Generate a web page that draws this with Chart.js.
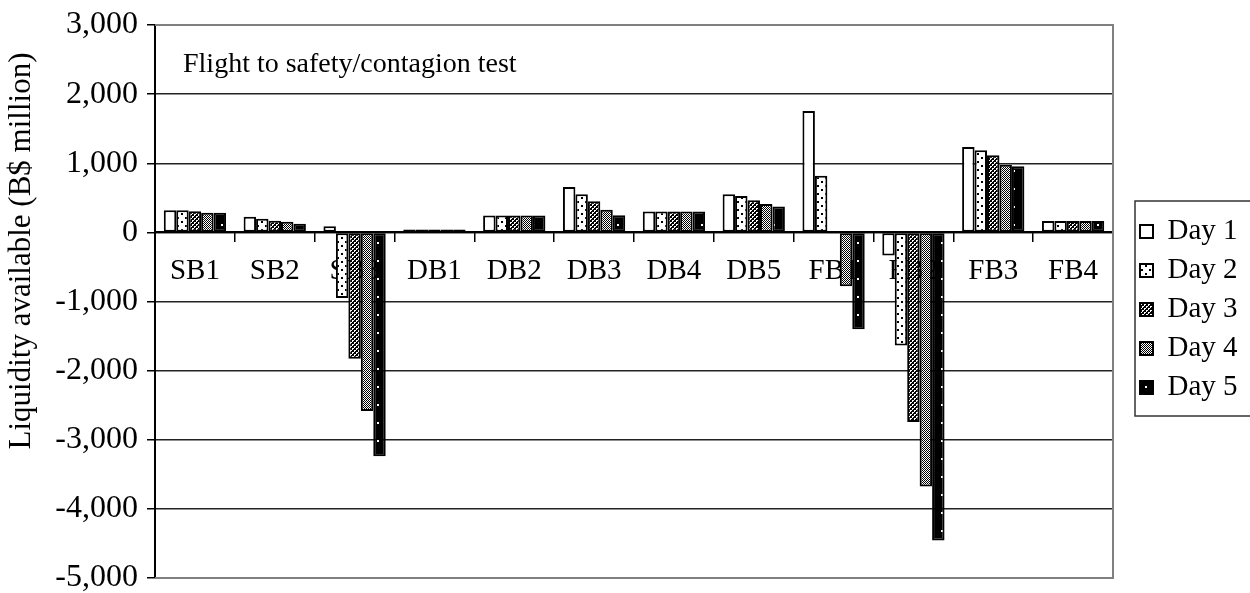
<!DOCTYPE html>
<html>
<head>
<meta charset="utf-8">
<script src="https://cdn.jsdelivr.net/npm/chart.js@4.4.1/dist/chart.umd.min.js"></script>
<style>
  html, body { margin: 0; padding: 0; background: #fff; }
  #wrap { width: 1250px; height: 593px; }
</style>
</head>
<body>
<div id="wrap"><canvas id="liquidez"></canvas></div>
<script>
// categorias y valores (B$ million)
const bancos = ["SB1", "SB2", "SB3", "DB1", "DB2", "DB3", "DB4", "DB5", "FB1", "FB2", "FB3", "FB4"];
const dias = ["Day 1", "Day 2", "Day 3", "Day 4", "Day 5"];
const day1 = [320, 227, 90, 40, 245, 656, 302, 550, 1756, -335, 1235, 164];
const day2 = [320, 198, -950, 40, 245, 552, 302, 526, 820, -1635, 1187, 164];
const day3 = [305, 169, -1830, 40, 245, 449, 302, 463, -15, -2745, 1114, 164];
const day4 = [285, 154, -2585, 40, 245, 328, 302, 410, -780, -3675, 980, 164];
const day5 = [285, 125, -3240, 40, 245, 246, 302, 376, -1400, -4457, 955, 164];
const yMin = -5000;
const yMax = 3000;
const yStep = 1000;

const SERIF = "'Liberation Serif', 'Times New Roman', serif";

// tramas en blanco y negro para cada dia
function trama(w, h, pinta) {
    const c = document.createElement("canvas");
    c.width = w;
    c.height = h;
    const g = c.getContext("2d");
    pinta(g);
    return g.createPattern(c, "repeat");
}

const tramas = [
    "#ffffff",
    trama(8, 8, (g) => {
        g.fillStyle = "#fff"; g.fillRect(0, 0, 8, 8);
        g.fillStyle = "#000"; g.fillRect(1, 1, 2, 2); g.fillRect(5, 5, 2, 2);
    }),
    trama(4, 4, (g) => {
        g.fillStyle = "#000"; g.fillRect(0, 0, 4, 4);
        g.fillStyle = "#fff";
        g.fillRect(0, 0, 2, 1); g.fillRect(0, 1, 1, 1);
        g.fillRect(2, 2, 2, 1); g.fillRect(2, 3, 1, 1);
    }),
    trama(2, 2, (g) => {
        g.fillStyle = "#fff"; g.fillRect(0, 0, 2, 2);
        g.fillStyle = "#000"; g.fillRect(0, 0, 1, 1); g.fillRect(1, 1, 1, 1);
    }),
    trama(12, 18, (g) => {
        g.fillStyle = "#000"; g.fillRect(0, 0, 12, 18);
        g.fillStyle = "#fff"; g.fillRect(5, 8, 2, 2);
    }),
];

const series = [day1, day2, day3, day4, day5];

const LEGEND_W = 137;

const extras = {
    id: "extras",
    beforeLayout(chart) {
        const lg = chart.legend;
        if (lg && !lg._anchoFijo) {
            const fitOriginal = lg.fit;
            lg.fit = function () {
                fitOriginal.call(this);
                this.width = LEGEND_W;
            };
            lg._anchoFijo = true;
        }
    },
    afterLayout(chart) {
        const lg = chart.legend;
        if (lg) {
            lg.left = 1130;
            lg.right = lg.left + LEGEND_W;
            lg.top += 8;
            lg.bottom += 8;
        }
    },
    beforeDatasetsDraw(chart) {
        const { ctx, chartArea: a } = chart;
        ctx.save();
        ctx.strokeStyle = "#808080";
        ctx.lineWidth = 2;
        ctx.beginPath();
        ctx.moveTo(a.left, a.top);
        ctx.lineTo(a.right, a.top);
        ctx.lineTo(a.right, a.bottom);
        ctx.lineTo(a.left, a.bottom);
        ctx.stroke();
        ctx.restore();
    },
    afterDraw(chart) {
        const { ctx, chartArea: a } = chart;
        ctx.save();
        ctx.fillStyle = "#000";
        ctx.font = "28px " + SERIF;
        ctx.textBaseline = "middle";
        ctx.textAlign = "left";
        ctx.fillText("Flight to safety/contagion test", a.left + 28, 65);

        ctx.translate(22, 251);
        ctx.rotate(-Math.PI / 2);
        ctx.textAlign = "center";
        ctx.font = "31px " + SERIF;
        ctx.fillText("Liquidity available (B$ million)", 0, 0);
        ctx.restore();

        const cajas = chart.legend && chart.legend.legendHitBoxes;
        if (cajas && cajas.length) {
            const primero = cajas[0];
            const ultimo = cajas[cajas.length - 1];
            ctx.save();
            ctx.strokeStyle = "#333";
            ctx.lineWidth = 1.5;
            ctx.strokeRect(1135, primero.top - 16, 130, ultimo.top + ultimo.height - primero.top + 30);
            ctx.restore();
        }
    },
};

new Chart(document.getElementById("liquidez"), {
    type: "bar",
    data: {
        labels: bancos,
        datasets: series.map((valores, i) => ({
            label: dias[i],
            data: valores,
            backgroundColor: tramas[i],
            borderColor: "#000",
            borderWidth: 2,
            borderSkipped: false,
            categoryPercentage: 0.78,
            barPercentage: 1,
        })),
    },
    options: {
        responsive: true,
        maintainAspectRatio: false,
        animation: false,
        layout: { autoPadding: false, padding: { top: 25, bottom: 15, left: 0, right: 0 } },
        plugins: {
            title: { display: false },
            tooltip: { enabled: false },
            legend: {
                position: "right",
                align: "center",
                labels: {
                    color: "#000",
                    font: { family: SERIF, size: 29 },
                    boxWidth: 13,
                    boxHeight: 13,
                    padding: 10,
                },
            },
        },
        scales: {
            x: {
                position: { y: 0 },
                grid: {
                    drawOnChartArea: false,
                    drawTicks: true,
                    tickLength: 9,
                    tickColor: "#000",
                    lineWidth: 1.5,
                },
                border: { display: true, color: "#000", width: 2 },
                ticks: {
                    color: "#000",
                    font: { family: SERIF, size: 29 },
                    padding: 13,
                    autoSkip: false,
                    maxRotation: 0,
                },
            },
            y: {
                min: yMin,
                max: yMax,
                afterFit(scale) {
                    scale.width = 155;
                    scale.paddingTop = 0;
                    scale.paddingBottom = 0;
                },
                grid: {
                    color: (c) => (c.tick && (c.tick.value === yMax || c.tick.value === yMin) ? "rgba(0,0,0,0)" : "#222"),
                    lineWidth: 1.5,
                    tickLength: 8,
                    tickColor: "#000",
                },
                border: { display: true, color: "#000", width: 2 },
                ticks: {
                    stepSize: yStep,
                    color: "#000",
                    font: { family: SERIF, size: 32 },
                    padding: 9,
                },
                title: { display: false },
            },
        },
    },
    plugins: [extras],
});
</script>
</body>
</html>
